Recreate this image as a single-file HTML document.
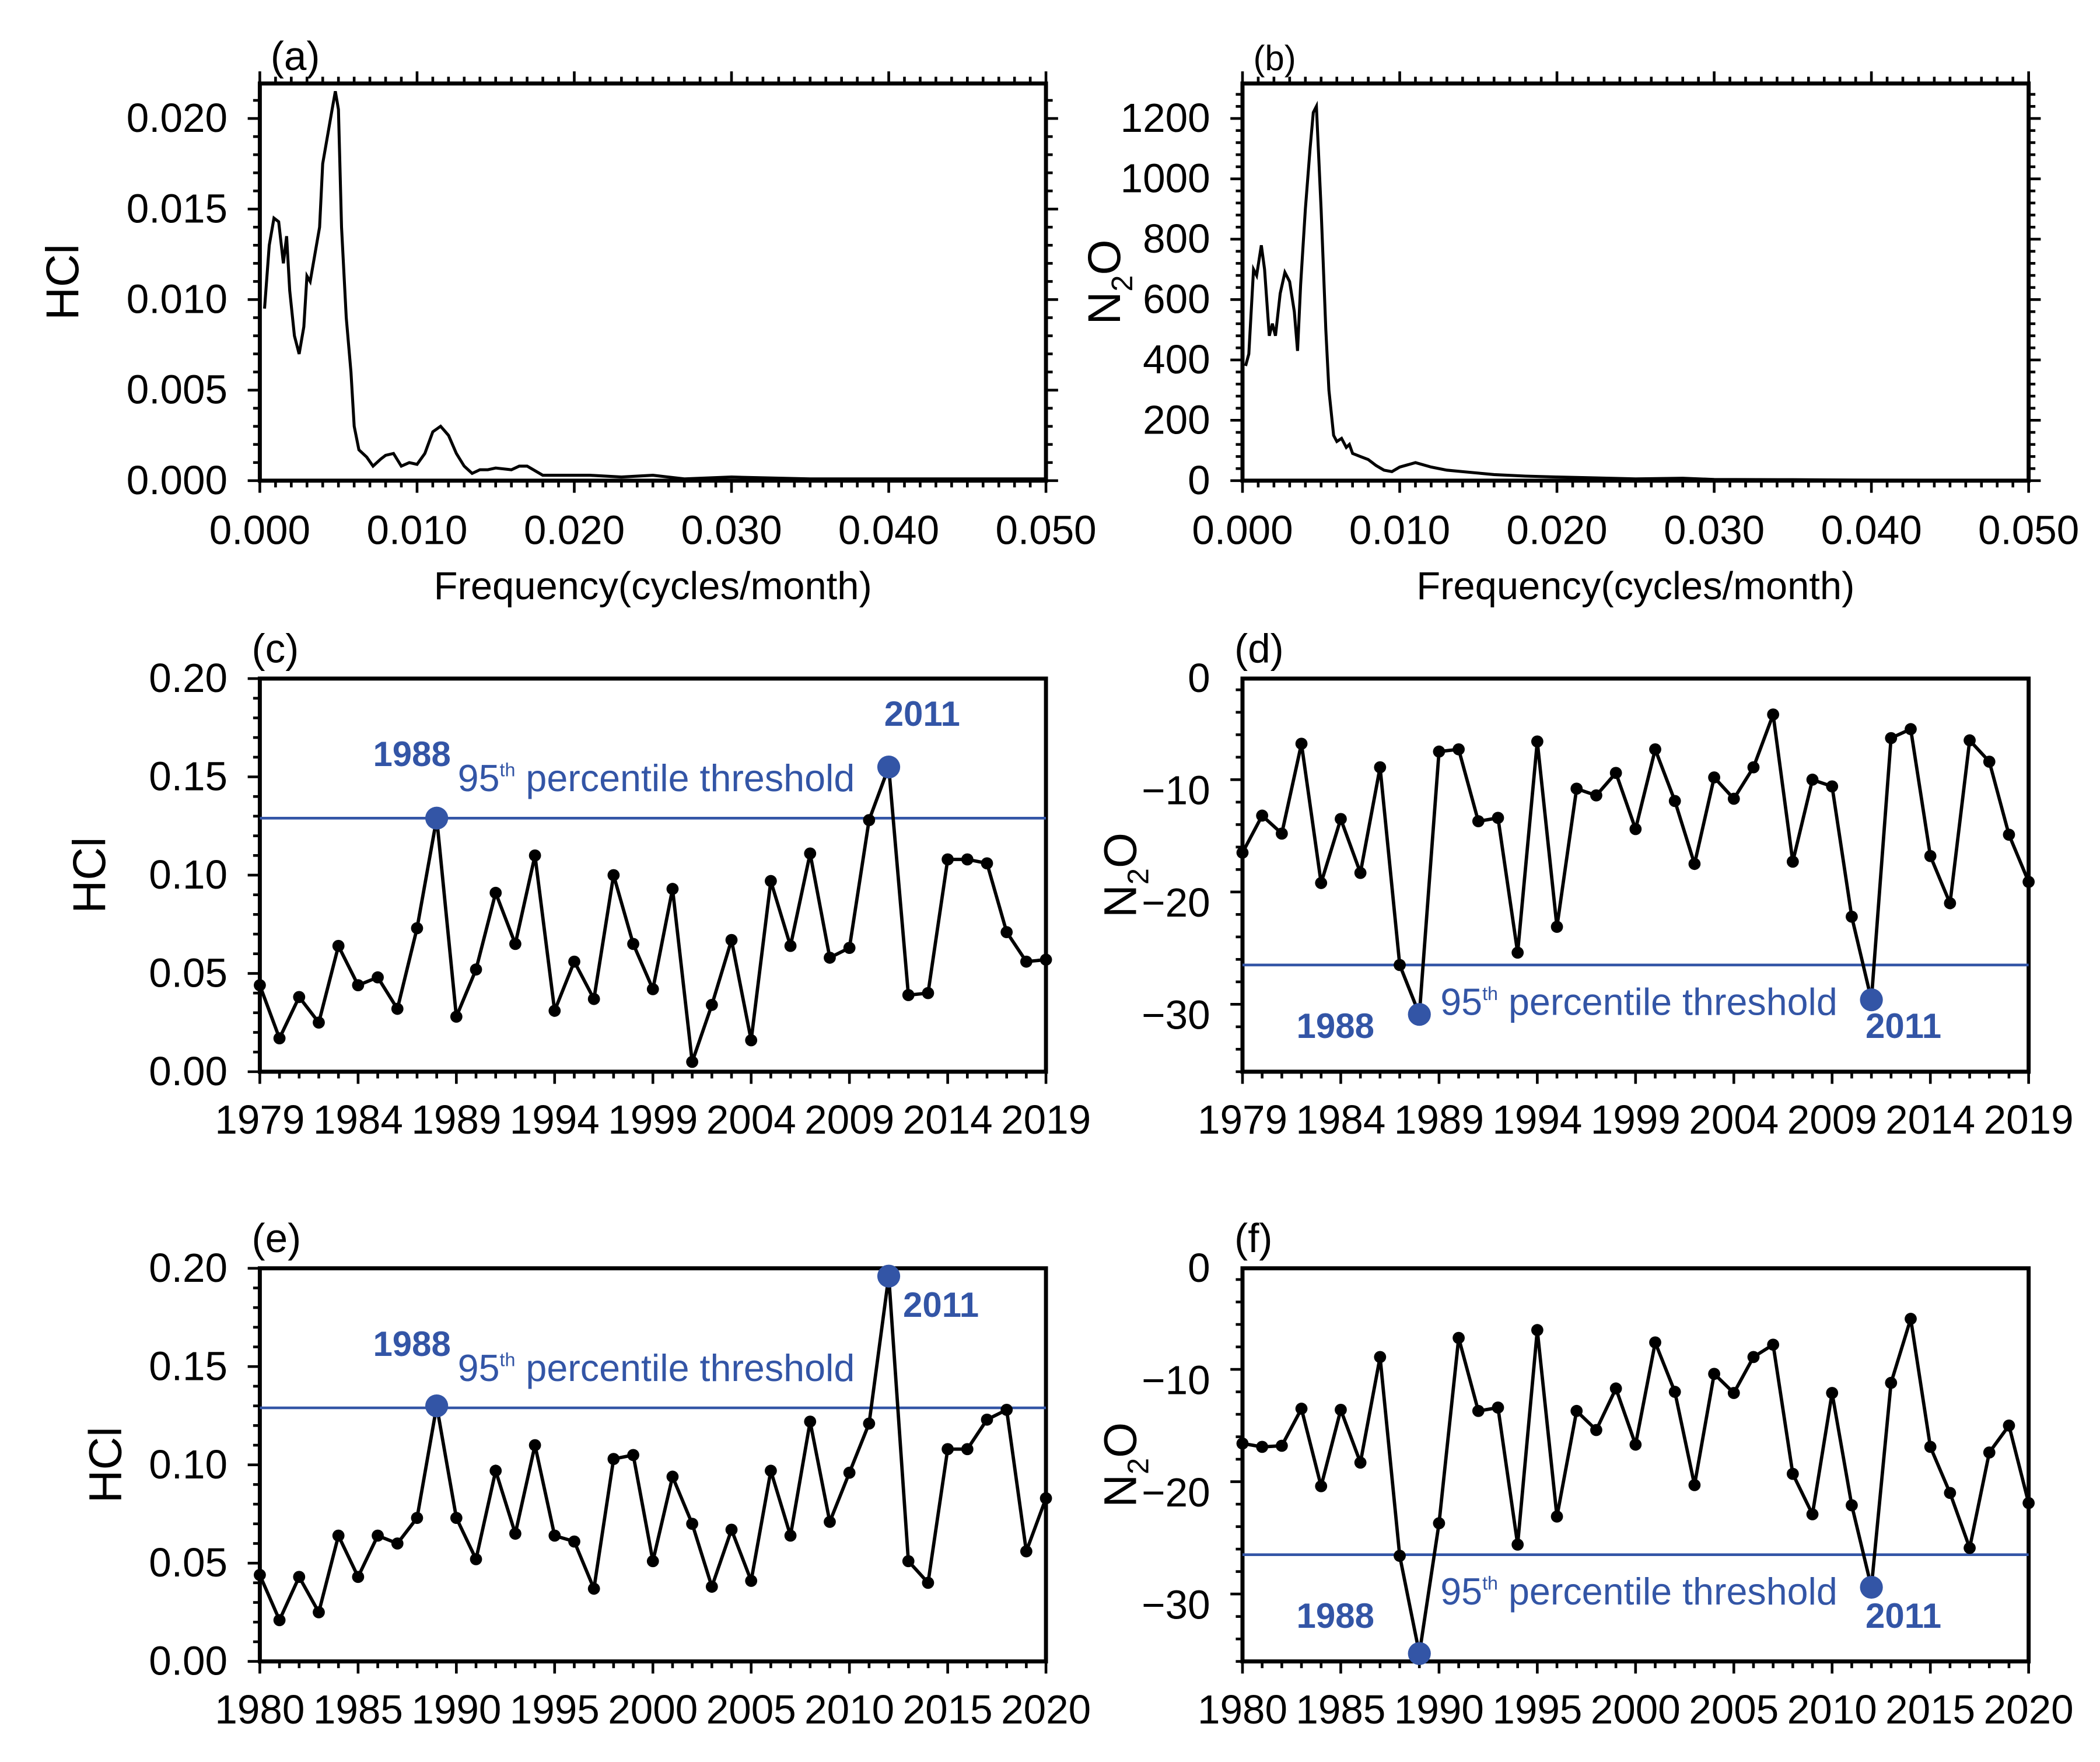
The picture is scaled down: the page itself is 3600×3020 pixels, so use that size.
<!DOCTYPE html>
<html><head><meta charset="utf-8">
<style>
html,body{margin:0;padding:0;background:#fff;}
svg{display:block;font-family:"Liberation Sans",sans-serif;}
</style></head>
<body>
<svg id="fig" width="3600" height="3020" viewBox="0 0 1560 1308.7" xmlns="http://www.w3.org/2000/svg"></svg>
<script>
// ---- data ----
const specAFreq=[0.0003,0.0006,0.0009,0.0012,0.0015,0.0017,0.0019,0.0022,0.0025,0.0028,0.003,0.0032,0.0035,0.0038,0.004,0.0043,0.0046,0.0048,0.005,0.0052,0.0055,0.0058,0.006,0.0063,0.0068,0.0072,0.0077,0.008,0.0085,0.009,0.0095,0.010,0.0105,0.011,0.0115,0.012,0.0125,0.013,0.0135,0.014,0.0145,0.015,0.016,0.0165,0.017,0.018,0.019,0.021,0.023,0.025,0.027,0.03,0.035,0.04,0.045,0.05];
const specAVal=[0.0095,0.013,0.0145,0.0143,0.012,0.0135,0.0105,0.008,0.007,0.0085,0.0113,0.011,0.0125,0.014,0.0175,0.019,0.0205,0.0215,0.0205,0.014,0.009,0.006,0.003,0.0017,0.0013,0.0008,0.0012,0.0014,0.0015,0.0008,0.0010,0.0009,0.0015,0.0027,0.003,0.0025,0.0015,0.0008,0.0004,0.0006,0.0006,0.0007,0.0006,0.0008,0.0008,0.0003,0.0003,0.0003,0.0002,0.0003,0.0001,0.0002,0.0001,0.0001,0.0001,0.0001];
const specBFreq=[0.0002,0.0004,0.0007,0.0009,0.0012,0.0014,0.0017,0.0019,0.0021,0.0024,0.0027,0.003,0.0033,0.0035,0.0037,0.004,0.0043,0.0045,0.0047,0.005,0.0053,0.0055,0.0058,0.006,0.0063,0.0066,0.0068,0.007,0.0075,0.008,0.0085,0.009,0.0095,0.01,0.011,0.012,0.013,0.014,0.015,0.016,0.018,0.02,0.022,0.025,0.028,0.03,0.035,0.04,0.05];
const specBVal=[380,420,700,680,780,700,480,520,480,620,690,660,560,430,650,900,1100,1220,1240,900,500,300,150,130,140,110,120,90,80,70,50,35,30,45,60,45,35,30,25,20,15,12,10,6,8,4,3,2,1];
const hclC=[0.044,0.017,0.038,0.025,0.064,0.044,0.048,0.032,0.073,0.129,0.028,0.052,0.091,0.065,0.110,0.031,0.056,0.037,0.100,0.065,0.042,0.093,0.005,0.034,0.067,0.016,0.097,0.064,0.111,0.058,0.063,0.128,0.155,0.039,0.040,0.108,0.108,0.106,0.071,0.056,0.057];
const n2oD=[-15.5,-12.2,-13.8,-5.8,-18.2,-12.5,-17.3,-7.9,-25.5,-29.9,-6.5,-6.3,-12.7,-12.4,-24.4,-5.6,-22.1,-9.8,-10.4,-8.4,-13.4,-6.3,-10.9,-16.5,-8.8,-10.7,-7.9,-3.2,-16.3,-9.0,-9.6,-21.2,-28.6,-5.3,-4.5,-15.8,-20.0,-5.5,-7.4,-13.9,-18.1];
const hclE=[0.044,0.021,0.043,0.025,0.064,0.043,0.064,0.060,0.073,0.130,0.073,0.052,0.097,0.065,0.110,0.064,0.061,0.037,0.103,0.105,0.051,0.094,0.070,0.038,0.067,0.041,0.097,0.064,0.122,0.071,0.096,0.121,0.196,0.051,0.040,0.108,0.108,0.123,0.128,0.056,0.083];
const n2oF=[-15.6,-15.9,-15.8,-12.5,-19.4,-12.6,-17.3,-7.9,-25.6,-34.3,-22.7,-6.2,-12.7,-12.4,-24.6,-5.5,-22.1,-12.7,-14.4,-10.7,-15.7,-6.6,-11.0,-19.3,-9.4,-11.1,-7.9,-6.8,-18.3,-21.9,-11.1,-21.1,-28.4,-10.2,-4.5,-15.9,-20.0,-24.9,-16.4,-14.0,-20.9];
const thrHCl=0.129;
const thrN2O=-25.5;
const highlightIdx=[9,32];
const highlightLabels=["1988","2011"];
const freqTicks=["0.000","0.010","0.020","0.030","0.040","0.050"];
const hclSpecTicks=["0.000","0.005","0.010","0.015","0.020"];
const n2oSpecTicks=["0","200","400","600","800","1000","1200"];
const hclTicks=["0.00","0.05","0.10","0.15","0.20"];
const n2oTicks=["0","\u221210","\u221220","\u221230"];
const yearTicksA=["1979","1984","1989","1994","1999","2004","2009","2014","2019"];
const yearTicksB=["1980","1985","1990","1995","2000","2005","2010","2015","2020"];

const NS="http://www.w3.org/2000/svg";
const svg=document.getElementById('fig');
function mk(tag,attrs,parent,text){const e=document.createElementNS(NS,tag);for(const k in attrs)e.setAttribute(k,attrs[k]);if(text!==undefined)e.textContent=text;(parent||svg).appendChild(e);return e;}
function lin(d0,d1,r0,r1){return v=>r0+(v-d0)/(d1-d0)*(r1-r0);}
const BLUE="#3355a6";
const TICKFS=30;

function panel(name){const g=mk('g',{});return g;}
function frame(g,x0,x1,y0,y1){const r=mk('rect',{x:x0,y:y0,width:x1-x0,height:y1-y0,fill:'none',stroke:'#000','stroke-width':3},g);}
function label(g,x,y,t,name,opts){const o=Object.assign({size:TICKFS,anchor:'middle',fill:'#000',weight:'normal'},opts||{});const e=mk('text',{x:x,y:y,'font-size':o.size,'text-anchor':o.anchor,fill:o.fill,'font-weight':o.weight},g,t);return e;}

function spectrum(name,tag,x0,y0,freq,vals,yTicks,ymaxTick,ymax,yTitleFn){
  const x1=x0+584,y1=y0+295;
  const g=panel(name);
  const xs=lin(0,0.05,x0,x1);
  const ys=lin(0,ymax,y1,y0);
  frame(g,x0,x1,y0,y1);
  for(let i=0;i<=50;i++){const f=i*0.001;const X=xs(f);const L=(i%10==0)?9:5;
    mk('line',{x1:X,x2:X,y1:y1,y2:y1+L,stroke:'#000','stroke-width':2},g);
    mk('line',{x1:X,x2:X,y1:y0,y2:y0-L,stroke:'#000','stroke-width':2},g);}
  const step=ymaxTick/(yTicks.length-1)/5;
  for(let i=0;i*step<=ymax+1e-9;i++){const Y=ys(i*step);const L=(i%5==0)?9:5;
    mk('line',{x1:x0,x2:x0-L,y1:Y,y2:Y,stroke:'#000','stroke-width':2},g);
    mk('line',{x1:x1,x2:x1+L,y1:Y,y2:Y,stroke:'#000','stroke-width':2},g);}
  freqTicks.forEach((t,i)=>label(g,xs(i*0.01),y1+47,t,'x-tick-label'));
  yTicks.forEach((t,i)=>label(g,x0-24,ys(i*ymaxTick/(yTicks.length-1))+10,t,'y-tick-label',{anchor:'end'}));
  label(g,(x0+x1)/2,y1+88,'Frequency(cycles/month)','x-axis-title',{size:29});
  yTitleFn(g,x0,y0,y1);
  label(g,x0+8,y0-10,tag,'panel-label',{size:tag=='(a)'?30:26,anchor:'start'});
  const pts=freq.map((f,i)=>xs(f).toFixed(1)+','+ys(vals[i]).toFixed(1)).join(' ');
  const pl=mk('polyline',{points:pts,fill:'none',stroke:'#000','stroke-width':2.2},g);
  
}
function titleHCl(x){return (g,x0,y0,y1)=>{const t=label(g,0,0,'HCl','y-axis-title',{size:34});t.setAttribute('transform',`translate(${x},${(y0+y1)/2}) rotate(-90)`);};}
function titleN2O(x){return (g,x0,y0,y1)=>{const t=mk('text',{'font-size':34,'text-anchor':'middle',transform:`translate(${x},${(y0+y1)/2}) rotate(-90)`},g);
  t.appendChild(document.createTextNode('N'));mk('tspan',{'font-size':22,dy:9},t,'2');mk('tspan',{dy:-9},t,'O');};}

spectrum('panel-a-hcl-spectrum','(a)',193,62,specAFreq,specAVal,hclSpecTicks,0.020,0.020*(295/269),titleHCl(58));
spectrum('panel-b-n2o-spectrum','(b)',923,62,specBFreq,specBVal,n2oSpecTicks,1200,1200*(295/269),titleN2O(832));

function series(name,tag,x0,y0,startYear,vals,ymin,ymax,yTicks,yTickVals,yearTicks,thr,isN2O,titleFn,labelPos){
  const x1=x0+584,y1=y0+292;
  const g=panel(name);
  const xs=lin(startYear,startYear+40,x0,x1);
  const ys=lin(ymin,ymax,y1,y0);
  frame(g,x0,x1,y0,y1);
  for(let i=0;i<=40;i++){const X=xs(startYear+i);const L=(i%5==0)?9:5;mk('line',{x1:X,x2:X,y1:y1,y2:y1+L,stroke:'#000','stroke-width':2},g);}
  const ystep=(yTickVals[1]-yTickVals[0])/5;
  for(let v=ymin;v<=ymax+1e-9;v+=Math.abs(ystep)){const Y=ys(v);const k=Math.round((v-yTickVals[0])/ystep);const L=(Math.abs(k)%5==0)?9:5;mk('line',{x1:x0,x2:x0-L,y1:Y,y2:Y,stroke:'#000','stroke-width':2},g);}
  yearTicks.forEach((t,i)=>label(g,xs(startYear+i*5),y1+46,t,'x-tick-label'));
  yTicks.forEach((t,i)=>label(g,x0-24,ys(yTickVals[i])+10,t,'y-tick-label',{anchor:'end'}));
  titleFn(g,x0,y0,y1);
  label(g,x0-6,y0-12,tag,'panel-label',{size:30,anchor:'start'});
  const thl=mk('line',{x1:x0,x2:x1,y1:ys(thr),y2:ys(thr),stroke:BLUE,'stroke-width':2},g);
  
  const pts=vals.map((v,i)=>xs(startYear+i).toFixed(1)+','+ys(v).toFixed(1)).join(' ');
  const pl=mk('polyline',{points:pts,fill:'none',stroke:'#000','stroke-width':2.5},g);
  
  vals.forEach((v,i)=>{const c=mk('circle',{cx:xs(startYear+i),cy:ys(v),r:4.5,fill:'#000'},g);});
  highlightIdx.forEach((idx,k)=>{const c=mk('circle',{cx:xs(startYear+idx),cy:ys(vals[idx]),r:8.5,fill:BLUE},g);});
  labelPos.forEach((p,k)=>label(g,p[0],p[1],highlightLabels[k],'extreme-label-'+highlightLabels[k],{size:26,fill:BLUE,weight:'bold'}));
  const tt=mk('text',{x:isN2O?1070:340,y:isN2O?ys(thr)+37:ys(thr)-20,'font-size':28,fill:BLUE},g);
  
  tt.appendChild(document.createTextNode('95'));mk('tspan',{'font-size':14,dy:-11},tt,'th');mk('tspan',{dy:11},tt,' percentile threshold');
}
series('panel-c-hcl-series','(c)',193,504,1979,hclC,0,0.2,hclTicks,[0,0.05,0.10,0.15,0.20],yearTicksA,thrHCl,false,titleHCl(78),[[306,569],[685,539]]);
series('panel-d-n2o-series','(d)',923,504,1979,n2oD,-35,0,n2oTicks,[0,-10,-20,-30],yearTicksA,thrN2O,true,titleN2O(844),[[992,771],[1414,771]]);
series('panel-e-hcl-series','(e)',193,942,1980,hclE,0,0.2,hclTicks,[0,0.05,0.10,0.15,0.20],yearTicksB,thrHCl,false,titleHCl(90),[[306,1007],[699,978]]);
series('panel-f-n2o-series','(f)',923,942,1980,n2oF,-35,0,n2oTicks,[0,-10,-20,-30],yearTicksB,thrN2O,true,titleN2O(844),[[992,1209],[1414,1209]]);
</script>
</body></html>
